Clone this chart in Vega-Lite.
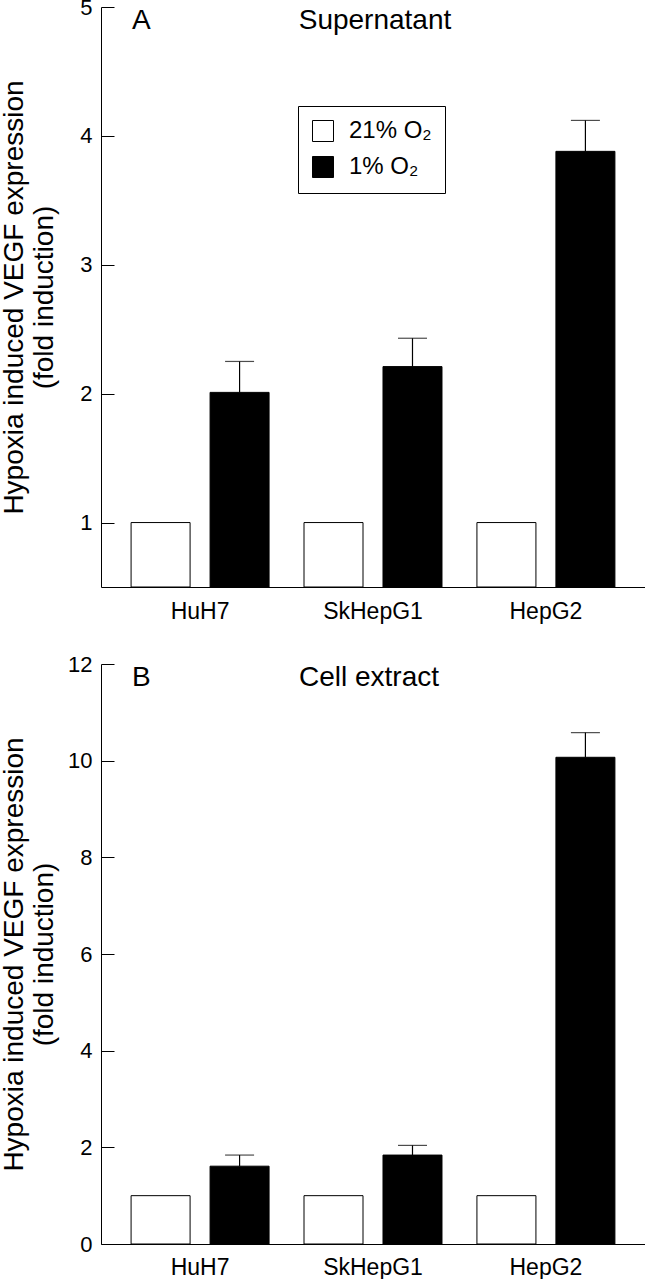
{
  "$schema": "https://vega.github.io/schema/vega-lite/v6.json",
  "padding": {"left": 0, "top": -4, "right": 0, "bottom": 0},
  "spacing": 30,
  "config": {
    "font": "Liberation Sans",
    "view": {"stroke": null},
    "axis": {"domainColor": "black", "tickColor": "black", "labelColor": "black", "titleColor": "black", "grid": false, "titleFontWeight": "normal"},
    "text": {"color": "black"}
  },
  "datasets": {
    "sup": [
      {"cell": "HuH7", "cond": "21% O₂", "value": 1},
      {"cell": "HuH7", "cond": "1% O₂", "value": 2.01, "upper": 2.25},
      {"cell": "SkHepG1", "cond": "21% O₂", "value": 1},
      {"cell": "SkHepG1", "cond": "1% O₂", "value": 2.21, "upper": 2.43},
      {"cell": "HepG2", "cond": "21% O₂", "value": 1},
      {"cell": "HepG2", "cond": "1% O₂", "value": 3.88, "upper": 4.12}
    ],
    "ext": [
      {"cell": "HuH7", "cond": "21% O₂", "value": 1},
      {"cell": "HuH7", "cond": "1% O₂", "value": 1.61, "upper": 1.84},
      {"cell": "SkHepG1", "cond": "21% O₂", "value": 1},
      {"cell": "SkHepG1", "cond": "1% O₂", "value": 1.84, "upper": 2.04},
      {"cell": "HepG2", "cond": "21% O₂", "value": 1},
      {"cell": "HepG2", "cond": "1% O₂", "value": 10.07, "upper": 10.58}
    ]
  },
  "vconcat": [
    {
      "width": 544,
      "height": 580,
      "data": {"name": "sup"},
      "layer": [
        {
          "mark": {"type": "bar", "stroke": "black", "strokeWidth": 1},
          "encoding": {
            "x": {"field": "cell", "type": "nominal", "sort": ["HuH7", "SkHepG1", "HepG2"],
                  "scale": {"paddingInner": 0.202, "paddingOuter": 0.174},
                  "axis": {"title": null, "ticks": false, "labelAngle": 0, "labelFontSize": 23, "labelPadding": 13, "labelBaseline": "top"}},
            "xOffset": {"field": "cond", "type": "nominal", "sort": ["21% O₂", "1% O₂"], "scale": {"paddingInner": 0.253, "paddingOuter": 0}},
            "y": {"field": "value", "type": "quantitative",
                  "scale": {"domain": [0.5, 5], "zero": false, "nice": false},
                  "axis": {"values": [1, 2, 3, 4, 5], "format": "d", "tickSize": -13, "labelPadding": 22, "labelFontSize": 22,
                           "title": ["Hypoxia induced VEGF expression", "(fold induction)"],
                           "titleFontSize": 28, "titleLineHeight": 30, "titleX": -79, "titleY": 290, "titleAnchor": "middle", "titleBaseline": "alphabetic"}},
            "y2": {"datum": 0.5},
            "color": {"field": "cond", "type": "nominal", "sort": ["21% O₂", "1% O₂"],
                      "scale": {"domain": ["21% O₂", "1% O₂"], "range": ["white", "black"]},
                      "legend": {"title": null, "orient": "none", "legendX": 197, "legendY": 99,
                                 "strokeColor": "black", "padding": 13, "rowPadding": 10,
                                 "symbolType": "square", "symbolSize": 441, "symbolStrokeColor": "black", "symbolStrokeWidth": 1,
                                 "labelFontSize": 24, "labelOffset": 14, "labelColor": "black"}}
          }
        },
        {
          "transform": [{"filter": "datum.upper != null"}],
          "mark": {"type": "rule", "color": "black", "strokeWidth": 1.2},
          "encoding": {
            "x": {"field": "cell", "type": "nominal", "sort": ["HuH7", "SkHepG1", "HepG2"]},
            "xOffset": {"field": "cond", "type": "nominal", "sort": ["21% O₂", "1% O₂"]},
            "y": {"field": "value", "type": "quantitative"},
            "y2": {"field": "upper"}
          }
        },
        {
          "transform": [{"filter": "datum.upper != null"}],
          "mark": {"type": "tick", "color": "black", "thickness": 1.2, "size": 29, "orient": "horizontal"},
          "encoding": {
            "x": {"field": "cell", "type": "nominal", "sort": ["HuH7", "SkHepG1", "HepG2"]},
            "xOffset": {"field": "cond", "type": "nominal", "sort": ["21% O₂", "1% O₂"]},
            "y": {"field": "upper", "type": "quantitative"}
          }
        },
        {
          "data": {"values": [{"label": "A"}]},
          "mark": {"type": "text", "align": "left", "baseline": "top", "fontSize": 28, "dx": -68},
          "encoding": {
            "x": {"datum": "HuH7", "type": "nominal"},
            "y": {"datum": 5, "type": "quantitative"},
            "text": {"field": "label"}
          }
        },
        {
          "data": {"values": [{"label": "Supernatant"}]},
          "mark": {"type": "text", "align": "center", "baseline": "top", "fontSize": 28, "dx": 2},
          "encoding": {
            "x": {"datum": "SkHepG1", "type": "nominal"},
            "y": {"datum": 5, "type": "quantitative"},
            "text": {"field": "label"}
          }
        }
      ]
    },
    {
      "width": 544,
      "height": 580,
      "data": {"name": "ext"},
      "layer": [
        {
          "mark": {"type": "bar", "stroke": "black", "strokeWidth": 1},
          "encoding": {
            "x": {"field": "cell", "type": "nominal", "sort": ["HuH7", "SkHepG1", "HepG2"],
                  "scale": {"paddingInner": 0.202, "paddingOuter": 0.174},
                  "axis": {"title": null, "ticks": false, "labelAngle": 0, "labelFontSize": 23, "labelPadding": 12, "labelBaseline": "top"}},
            "xOffset": {"field": "cond", "type": "nominal", "sort": ["21% O₂", "1% O₂"], "scale": {"paddingInner": 0.253, "paddingOuter": 0}},
            "y": {"field": "value", "type": "quantitative",
                  "scale": {"domain": [0, 12], "nice": false},
                  "axis": {"values": [0, 2, 4, 6, 8, 10, 12], "tickSize": -13, "labelPadding": 22, "labelFontSize": 22,
                           "title": ["Hypoxia induced VEGF expression", "(fold induction)"],
                           "titleFontSize": 28, "titleLineHeight": 30, "titleX": -79, "titleY": 290, "titleAnchor": "middle", "titleBaseline": "alphabetic"}},
            "color": {"field": "cond", "type": "nominal", "sort": ["21% O₂", "1% O₂"],
                      "scale": {"domain": ["21% O₂", "1% O₂"], "range": ["white", "black"]},
                      "legend": null}
          }
        },
        {
          "transform": [{"filter": "datum.upper != null"}],
          "mark": {"type": "rule", "color": "black", "strokeWidth": 1.2},
          "encoding": {
            "x": {"field": "cell", "type": "nominal", "sort": ["HuH7", "SkHepG1", "HepG2"]},
            "xOffset": {"field": "cond", "type": "nominal", "sort": ["21% O₂", "1% O₂"]},
            "y": {"field": "value", "type": "quantitative"},
            "y2": {"field": "upper"}
          }
        },
        {
          "transform": [{"filter": "datum.upper != null"}],
          "mark": {"type": "tick", "color": "black", "thickness": 1.2, "size": 29, "orient": "horizontal"},
          "encoding": {
            "x": {"field": "cell", "type": "nominal", "sort": ["HuH7", "SkHepG1", "HepG2"]},
            "xOffset": {"field": "cond", "type": "nominal", "sort": ["21% O₂", "1% O₂"]},
            "y": {"field": "upper", "type": "quantitative"}
          }
        },
        {
          "data": {"values": [{"label": "B"}]},
          "mark": {"type": "text", "align": "left", "baseline": "top", "fontSize": 28, "dx": -68},
          "encoding": {
            "x": {"datum": "HuH7", "type": "nominal"},
            "y": {"datum": 12, "type": "quantitative"},
            "text": {"field": "label"}
          }
        },
        {
          "data": {"values": [{"label": "Cell extract"}]},
          "mark": {"type": "text", "align": "center", "baseline": "top", "fontSize": 28, "dx": -4},
          "encoding": {
            "x": {"datum": "SkHepG1", "type": "nominal"},
            "y": {"datum": 12, "type": "quantitative"},
            "text": {"field": "label"}
          }
        }
      ]
    }
  ]
}
